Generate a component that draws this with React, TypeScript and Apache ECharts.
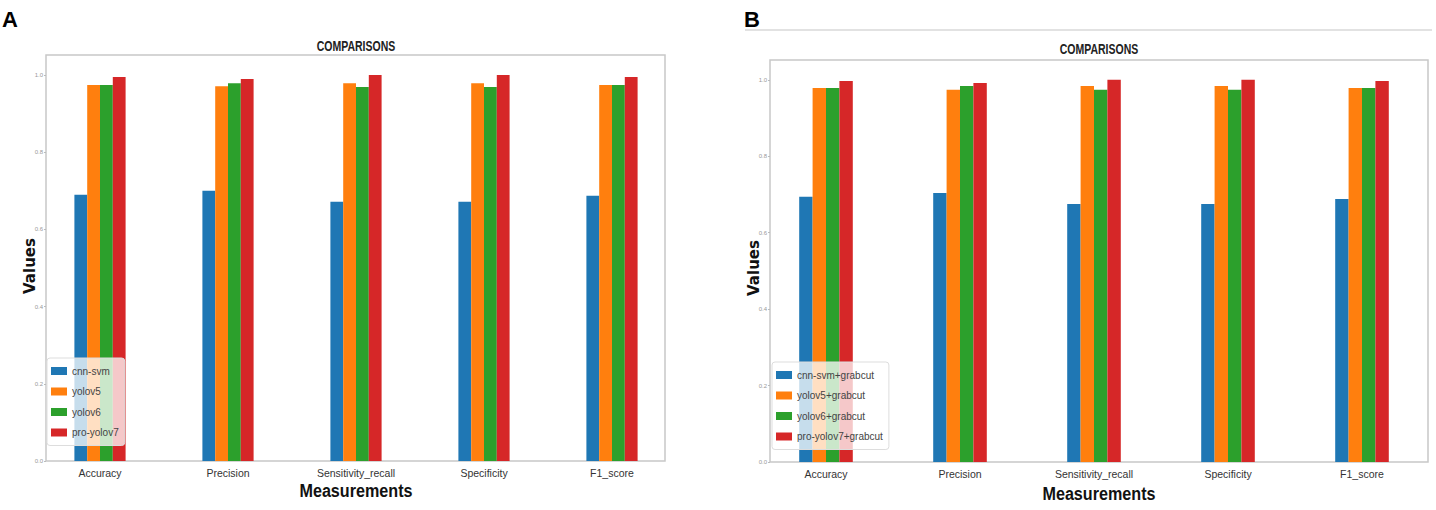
import React, { useEffect, useRef } from "react";
import * as echarts from "echarts";

const categories = ["Accuracy", "Precision", "Sensitivity_recall", "Specificity", "F1_score"];
const yTicks = [0, 0.2, 0.4, 0.6, 0.8, 1.0];

const namesA = ["cnn-svm", "yolov5", "yolov6", "pro-yolov7"];
const cnnSvmA = [0.69, 0.70, 0.672, 0.672, 0.687];
const yolov5A = [0.974, 0.971, 0.979, 0.979, 0.974];
const yolov6A = [0.974, 0.979, 0.969, 0.969, 0.974];
const proYolov7A = [0.995, 0.99, 1.0, 1.0, 0.995];

const namesB = ["cnn-svm+grabcut", "yolov5+grabcut", "yolov6+grabcut", "pro-yolov7+grabcut"];
const cnnSvmB = [0.694, 0.704, 0.675, 0.675, 0.688];
const yolov5B = [0.979, 0.974, 0.984, 0.984, 0.979];
const yolov6B = [0.979, 0.984, 0.974, 0.974, 0.979];
const proYolov7B = [0.997, 0.992, 1.0, 1.0, 0.997];

const colors = ["#1f77b4", "#ff7f0e", "#2ca02c", "#d62728"];

const SANS = "'Liberation Sans', Arial, sans-serif";

export default function App() {
  const ref = useRef<HTMLDivElement>(null);
  useEffect(() => {
    const chart = echarts.init(ref.current!, null, { renderer: "svg" });
    const seriesA = [cnnSvmA, yolov5A, yolov6A, proYolov7A];
    const seriesB = [cnnSvmB, yolov5B, yolov6B, proYolov7B];
    const mkSeries = (names: string[], data: number[][], idx: number) =>
      names.map((n, i) => ({
        type: "bar",
        name: n,
        xAxisIndex: idx,
        yAxisIndex: idx,
        data: data[i],
        itemStyle: { color: colors[i] },
        barGap: "0%",
        barCategoryGap: "60%",
      }));
    const xAx = (gi: number) => ({
      type: "category",
      gridIndex: gi,
      data: categories,
      axisLine: { show: false },
      axisTick: { show: false },
      axisLabel: { color: "#333", fontSize: 10.5, fontFamily: SANS, margin: 6, interval: 0 },
    });
    const yAx = (gi: number, off: number) => ({
      type: "value",
      gridIndex: gi,
      min: 0,
      max: 1.052,
      interval: 0.2,
      offset: off,
      axisLine: { show: false },
      axisTick: { show: true, length: 2, lineStyle: { color: "#bbb" } },
      splitLine: { show: false },
      axisLabel: {
        fontSize: 6,
        color: "#999",
        margin: 3,
        showMaxLabel: false,
        formatter: (v: number) => (yTicks.some((t) => Math.abs(t - v) < 1e-6) ? v.toFixed(1) : ""),
      },
    });
    const legend = (names: string[], left: number, top: number) => ({
      data: names,
      orient: "vertical",
      left,
      top,
      icon: "rect",
      itemWidth: 16,
      itemHeight: 8,
      itemGap: 10.5,
      backgroundColor: "rgba(255,255,255,0.75)",
      borderColor: "#ddd",
      borderWidth: 1,
      borderRadius: 3,
      padding: [8, 6, 8, 4],
      textStyle: { fontSize: 10, color: "#444", fontFamily: SANS },
    });
    chart.setOption({
      animation: false,
      grid: [
        { left: 36, top: 55, width: 640, height: 406 },
        { left: 759, top: 60, width: 670, height: 402 },
      ],
      xAxis: [xAx(0), xAx(1)],
      yAxis: [yAx(0, -10), yAx(1, -11)],
      legend: [legend(namesA, 47, 358), legend(namesB, 772, 362)],
      series: [...mkSeries(namesA, seriesA, 0), ...mkSeries(namesB, seriesB, 1)],
      graphic: [
        { type: "rect", shape: { x: 46, y: 55, width: 619, height: 406 }, style: { fill: "none", stroke: "#c8c8c8", lineWidth: 1.5 }, z: 0 },
        { type: "rect", shape: { x: 770, y: 60, width: 658, height: 402 }, style: { fill: "none", stroke: "#c8c8c8", lineWidth: 1.5 }, z: 0 },
        { type: "line", shape: { x1: 745, y1: 30, x2: 1432, y2: 30 }, style: { stroke: "#d8d8d8", lineWidth: 1.5 } },
        { type: "text", left: 2, top: 8, style: { text: "A", font: `bold 22px ${SANS}`, fill: "#000" } },
        { type: "text", left: 744, top: 8, style: { text: "B", font: `bold 22px ${SANS}`, fill: "#000" } },
        { type: "text", x: 356, y: 46, scaleX: 0.7, style: { text: "COMPARISONS", font: `bold 15px ${SANS}`, fill: "#222", align: "center", verticalAlign: "middle" } },
        { type: "text", x: 1099, y: 49, scaleX: 0.7, style: { text: "COMPARISONS", font: `bold 15px ${SANS}`, fill: "#222", align: "center", verticalAlign: "middle" } },
        { type: "text", x: 356, y: 491, scaleX: 0.85, style: { text: "Measurements", font: `bold 19px ${SANS}`, fill: "#111", align: "center", verticalAlign: "middle" } },
        { type: "text", x: 1099, y: 494, scaleX: 0.85, style: { text: "Measurements", font: `bold 19px ${SANS}`, fill: "#111", align: "center", verticalAlign: "middle" } },
        { type: "text", x: 30, y: 266, rotation: Math.PI / 2, style: { text: "Values", font: "bold 15px 'DejaVu Sans', sans-serif", fill: "#111", align: "center", verticalAlign: "middle" } },
        { type: "text", x: 754, y: 268, rotation: Math.PI / 2, style: { text: "Values", font: "bold 15px 'DejaVu Sans', sans-serif", fill: "#111", align: "center", verticalAlign: "middle" } },
      ],
    });
    return () => chart.dispose();
  }, []);
  return <div ref={ref} style={{ position: "fixed", left: 0, top: 0, width: 1436, height: 510, background: "#fff" }} />;
}
